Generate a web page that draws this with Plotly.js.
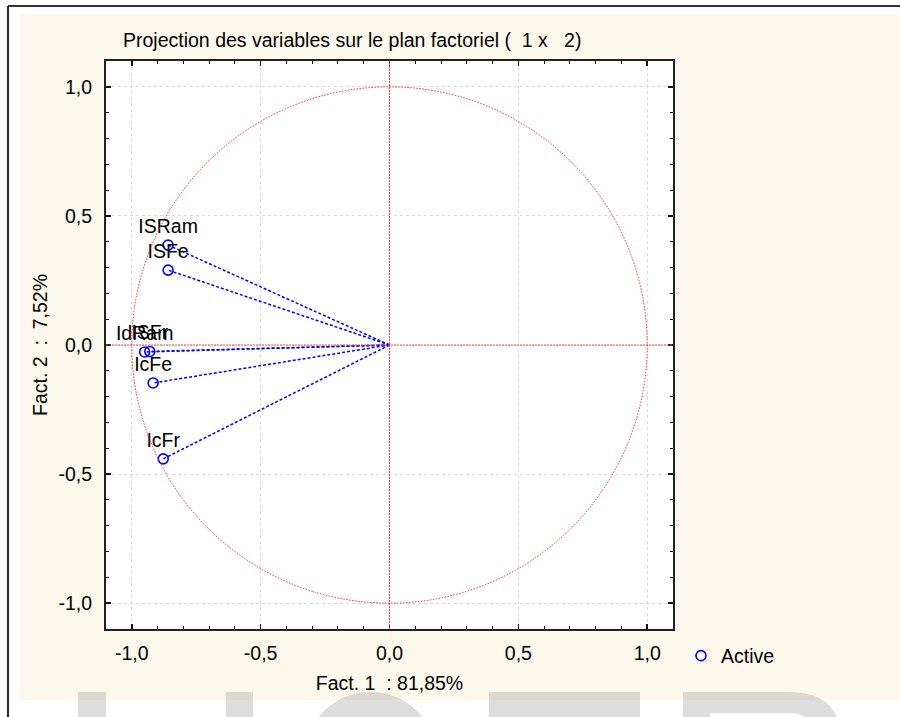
<!DOCTYPE html>
<html>
<head>
<meta charset="utf-8">
<script src="https://cdn.plot.ly/plotly-3.0.1.min.js"></script>
<style>html,body{margin:0;padding:0;background:#fff;}#chart{width:900px;height:717px;}</style>
</head>
<body>
<div id="chart"></div>
<script>
// ---- data ----
const varNames = ['ISRam', 'ISFe', 'IdRam', 'ISFr', 'IcFe', 'IcFr'];
const fact1 = [-0.859, -0.859, -0.950, -0.930, -0.917, -0.878];
const fact2 = [0.387, 0.290, -0.027, -0.025, -0.147, -0.441];
const tickVals = [-1.0, -0.5, 0.0, 0.5, 1.0];
const tickText = ['-1,0', '-0,5', '0,0', '0,5', '1,0'];
const legendName = 'Active';
const titleText = 'Projection des variables sur le plan factoriel (\u00a0 1 x \u00a0 2)';
const xTitle = 'Fact. 1 \u00a0: 81,85%';
const yTitle = 'Fact. 2 \u00a0: \u00a07,52%';

// ---- geometry helpers (pixel -> paper) ----
const W = 900, H = 717;
const L = 106, R = 673, T = 61, B = 629;
const px = v => (v - L) / (R - L);
const py = v => (B - v) / (B - T);

// vectors from origin
const lx = [], ly = [];
for (let i = 0; i < fact1.length; i++) {
  lx.push(0, fact1[i], null);
  ly.push(0, fact2[i], null);
}

const font = 'Liberation Sans, Arial, sans-serif';
const FS = 19.5;

const traces = [
  {
    x: lx, y: ly, mode: 'lines', type: 'scatter', showlegend: false, hoverinfo: 'skip',
    line: {color: '#0000ff', width: 1.5, dash: '3px,2px'}
  },
  {
    x: fact1, y: fact2, text: varNames, mode: 'markers+text', type: 'scatter',
    name: legendName, textposition: 'top center',
    textfont: {family: font, size: FS, color: '#000'},
    marker: {symbol: 'circle-open', size: 10, color: '#0000ff', line: {width: 1.6, color: '#0000ff'}}
  }
];

function rectP(x0, y0, x1, y1, fill, layer) {
  return {type: 'rect', xref: 'paper', yref: 'paper', x0: px(x0), x1: px(x1), y0: py(y0), y1: py(y1),
          fillcolor: fill, line: {width: 0}, layer: layer || 'below'};
}
function lineP(x0, y0, x1, y1, color, width) {
  return {type: 'line', xref: 'paper', yref: 'paper', x0: px(x0), x1: px(x1), y0: py(y0), y1: py(y1),
          line: {color: color, width: width}, layer: 'above'};
}
const wm = 'rgba(120,120,120,0.25)';
function pathP(pts) {
  let s = '';
  pts.forEach(p => {
    s += p[0];
    for (let k = 1; k < p.length; k += 2) s += ' ' + px(p[k]).toFixed(5) + ',' + py(p[k + 1]).toFixed(5) + ' ';
  });
  return s;
}

const shapes = [
  rectP(20, 14, 900, 700, '#fdf8ec', 'below'),
  {type: 'rect', xref: 'paper', yref: 'paper', x0: 0, x1: 1, y0: 0, y1: 1, fillcolor: '#ffffff', line: {width: 0}, layer: 'below'},
  // watermark letters
  rectP(78, 692, 106, 730, wm, 'above'),
  rectP(226, 692, 253, 730, wm, 'above'),
  {type: 'circle', xref: 'paper', yref: 'paper', x0: px(304), x1: px(437), y0: py(692), y1: py(825), fillcolor: wm, line: {width: 0}, layer: 'above'},
  rectP(489, 692, 640, 730, wm, 'above'),
  {type: 'path', xref: 'paper', yref: 'paper', fillcolor: wm, line: {width: 0}, layer: 'above',
   path: pathP([['M', 683, 692], ['L', 790, 692], ['Q', 842, 692, 842, 745], ['L', 815, 745], ['Q', 815, 713, 790, 713], ['L', 710, 713], ['L', 710, 745], ['L', 683, 745], ['Z']])},
  // frame
  lineP(8, 6, 900, 6, '#333', 2.2),
  lineP(8, 6, 8, 730, '#333', 2.2),
  // reference lines and circle
  {type: 'line', xref: 'x', yref: 'paper', x0: 0, x1: 0, y0: 0, y1: 1, line: {color: '#ff4444', width: 1.2, dash: '2px,1px'}, layer: 'above'},
  {type: 'line', xref: 'paper', yref: 'y', x0: 0, x1: 1, y0: 0, y1: 0, line: {color: '#ff4444', width: 1.2, dash: '2px,1px'}, layer: 'above'},
  {type: 'circle', xref: 'x', yref: 'y', x0: -1, x1: 1, y0: -1, y1: 1, line: {color: '#ff2222', width: 1, dash: '1.5px,1.5px'}, layer: 'above'}
];

const axisCommon = {
  range: [-1.1, 1.1], tickvals: tickVals, ticktext: tickText,
  ticks: 'inside', ticklen: 5, tickwidth: 1.5, tickcolor: '#111',
  minor: {dtick: 0.1, ticks: 'inside', ticklen: 3, tickwidth: 1, tickcolor: '#111', showgrid: false},
  showline: true, linecolor: '#222', linewidth: 2, mirror: 'allticks',
  showgrid: true, gridcolor: '#d9d9d9', griddash: 'dot', gridwidth: 1,
  zeroline: false, fixedrange: true,
  tickfont: {family: font, size: FS, color: '#000'}
};

const layout = {
  width: W, height: H,
  margin: {l: L, r: W - R, t: T, b: H - B, pad: 0},
  paper_bgcolor: '#ffffff', plot_bgcolor: '#ffffff',
  font: {family: font, color: '#000'},
  title: {text: titleText, x: 123 / W, xanchor: 'left', xref: 'container', y: 1 - 40 / H, yanchor: 'middle', yref: 'container',
          font: {family: font, size: FS, color: '#000'}},
  xaxis: Object.assign({}, axisCommon, {
    title: {text: xTitle, font: {family: font, size: FS, color: '#000'}, standoff: 13},
    ticklabelstandoff: 6
  }),
  yaxis: Object.assign({}, axisCommon, {
    title: {text: yTitle, font: {family: font, size: FS, color: '#000'}, standoff: 6},
    ticklabelstandoff: 8
  }),
  showlegend: true,
  legend: {x: px(681), xanchor: 'left', y: py(656), yanchor: 'middle', bgcolor: 'rgba(0,0,0,0)',
           font: {family: font, size: FS, color: '#000'}},
  shapes: shapes
};

Plotly.newPlot('chart', traces, layout, {displayModeBar: false, staticPlot: true});
</script>
</body>
</html>
